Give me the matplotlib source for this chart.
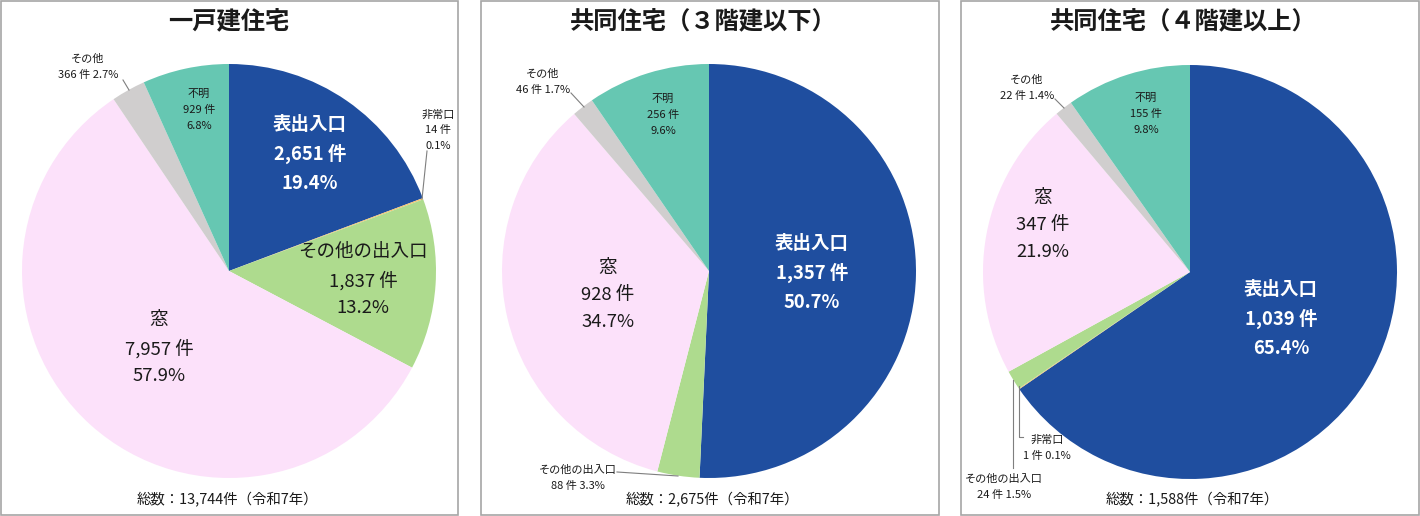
import matplotlib
matplotlib.use("Agg")
import matplotlib.pyplot as plt
from matplotlib.patches import Rectangle

plt.rcParams['font.family'] = ['Noto Sans CJK JP', 'DejaVu Sans']

# data
categories = ["表出入口", "非常口", "その他の出入口", "窓", "その他", "不明"]
titles = ["一戸建住宅", "共同住宅（３階建以下）", "共同住宅（４階建以上）"]
totals = ["13,744", "2,675", "1,588"]
counts_house = [2651, 14, 1837, 7957, 366, 929]
pcts_house = [19.4, 0.1, 13.2, 57.9, 2.7, 6.8]
counts_low = [1357, 0, 88, 928, 46, 256]
pcts_low = [50.7, 0.0, 3.3, 34.7, 1.7, 9.6]
counts_high = [1039, 1, 24, 347, 22, 155]
pcts_high = [65.4, 0.1, 1.5, 21.9, 1.4, 9.8]

colors = ["#1F4E9F", "#F6C46E", "#AEDB8E", "#FCE1FA", "#D0CECE", "#66C7B2"]

W, H = 1420, 516
fig = plt.figure(figsize=(W / 100, H / 100), dpi=100)
ax = fig.add_axes([0, 0, 1, 1])


def Y(y):
    return H - y


# panel layout (pixels, y from top)
panels = [
    dict(box=(1, 458), cx=229, cy=271, r=207, tx=229, sx=227),
    dict(box=(481, 939), cx=709, cy=271, r=207, tx=703, sx=712),
    dict(box=(961, 1419), cx=1190, cy=272, r=207, tx=1183, sx=1192),
]

# label positions per panel: category index -> (x, y, style, two_line)
label_pos = [
    {0: (310, 154, "big_w", False), 1: (438, 130, "small", False),
     2: (363, 280, "big", False), 3: (159, 348, "big", False),
     4: (88, 67, "small", True), 5: (199, 110, "small", False)},
    {0: (812, 273, "big_w", False), 2: (578, 478, "small", True),
     3: (608, 295, "big", False), 4: (543, 82, "small", True),
     5: (663, 115, "small", False)},
    {0: (1281, 319, "big_w", False), 1: (1047, 448, "small", True),
     2: (1004, 487, "small", True), 3: (1043, 225, "big", False),
     4: (1027, 88, "small", True), 5: (1146, 114, "small", False)},
]

# leader lines (pixels)
leaders = [
    [[(427, 151), (422, 199)], [(123, 80), (129, 90)]],
    [[(617, 472), (678, 476)], [(571, 93), (584, 107)]],
    [[(1019, 386), (1019, 437), (1023, 437)], [(1013, 380), (1013, 468)],
     [(1055, 99), (1064, 108)]],
]

all_counts = [counts_house, counts_low, counts_high]
all_pcts = [pcts_house, pcts_low, pcts_high]

for i, p in enumerate(panels):
    x0, x1 = p["box"]
    ax.add_patch(Rectangle((x0, 1), x1 - x0, H - 2, fill=False,
                           edgecolor="#A6A6A6", linewidth=1.2))
    ax.pie(all_counts[i], colors=colors, startangle=90, counterclock=False,
           center=(p["cx"], Y(p["cy"])), radius=p["r"],
           wedgeprops=dict(linewidth=0))
    ax.text(p["tx"], Y(22), titles[i], ha="center", va="center",
            fontsize=17.5, fontweight="bold", color="#1a1a1a")
    ax.text(p["sx"], Y(500), "総数：" + totals[i] + "件（令和7年）",
            ha="center", va="center", fontsize=10.4, color="#1a1a1a")

    for k, (lx, ly, style, two) in label_pos[i].items():
        c = all_counts[i][k]
        pc = all_pcts[i][k]
        if two:
            s = "%s\n%s 件 %.1f%%" % (categories[k], format(c, ","), pc)
        else:
            s = "%s\n%s 件\n%.1f%%" % (categories[k], format(c, ","), pc)
        if style == "small":
            ax.text(lx, Y(ly), s, ha="center", va="center", fontsize=8,
                    linespacing=1.7, color="#1a1a1a")
        elif style == "big_w":
            ax.text(lx, Y(ly), s, ha="center", va="center", fontsize=13.3,
                    linespacing=1.65, color="white", fontweight="bold")
        else:
            ax.text(lx, Y(ly), s, ha="center", va="center", fontsize=13.3,
                    linespacing=1.65, color="#1a1a1a", fontweight="normal")

    for pts in leaders[i]:
        ax.plot([q[0] for q in pts], [Y(q[1]) for q in pts],
                color="#7F7F7F", linewidth=0.8)

ax.set_xlim(0, W)
ax.set_ylim(0, H)
ax.set_aspect("auto")
ax.axis("off")

fig.savefig("out.png", dpi=100, facecolor="white")
